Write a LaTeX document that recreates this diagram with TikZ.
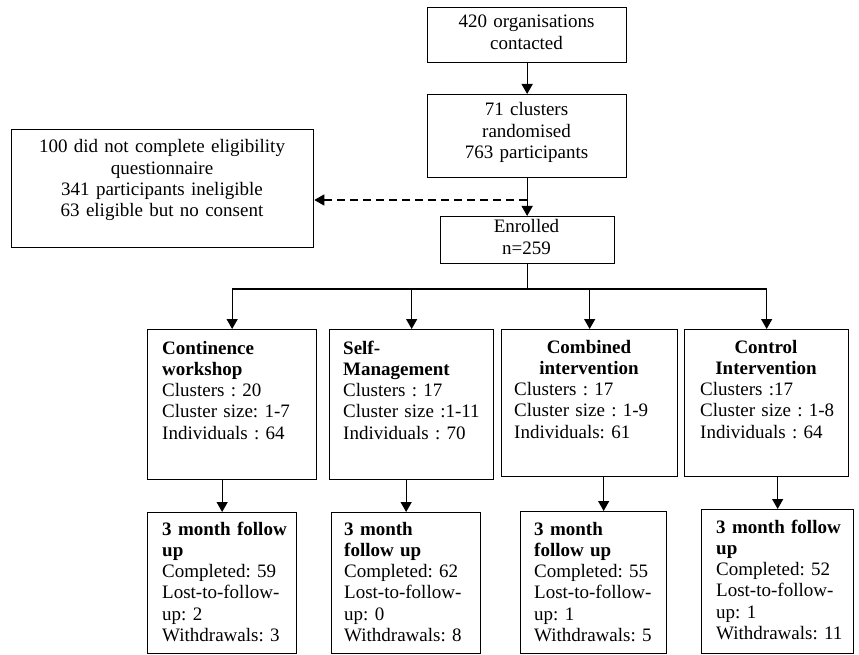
\documentclass[tikz,border=0pt]{standalone}
\usepackage{fontspec}
\setmainfont{Liberation Serif}
\usetikzlibrary{arrows.meta}
\frenchspacing
\tikzset{
  box/.style={draw, line width=1.3pt, inner sep=0pt, anchor=north west},
  txt/.style={inner sep=0pt, text width=140pt, align=left, anchor=base west},
  fut/.style={txt, text width=130pt},
  mid/.style={inner sep=0pt, align=center, anchor=base},
  arr/.style={line width=1.3pt, -{Triangle[length=10pt,width=11pt]}},
}
\begin{document}
\begin{tikzpicture}[x=1pt, y=-1pt, font=\fontsize{19}{21.3}\selectfont]
  \useasboundingbox (0,0) rectangle (859,655);
  % main column
  \node[box, minimum width=199pt, minimum height=55pt] (org) at (427,7) {};
  \node[mid, text width=190pt] (orgt) at (526.5,28) {420 organisations\\contacted};
  \node[box, minimum width=199pt, minimum height=83pt] (rd) at (427,94) {};
  \node[mid, text width=190pt] (rdt) at (526.5,116) {71 clusters\\randomised\\763 participants};
  \node[box, minimum width=174pt, minimum height=47pt] (en) at (439.5,216) {};
  \node[mid, text width=160pt] (ent) at (526.5,233) {Enrolled\\n=259};
  \node[box, minimum width=302pt, minimum height=118pt] (ex) at (11,129) {};
  \node[mid, text width=290pt] (ext) at (162,153) {100 did not complete eligibility\\questionnaire\\341 participants ineligible\\63 eligible but no consent};
  \coordinate (split) at (rd.south |- 0,200);
  \coordinate (bus) at (en.south |- 0,289);
  \draw[arr] (org.south) -- (rd.north);
  \draw[arr] (rd.south) -- (rd.south |- en.north);
  \draw[arr, dash pattern=on 8pt off 5pt] (split) -- (split -| ex.east);

  % study arms
  \node[box, minimum width=169pt, minimum height=150pt] (cw) at (147,329) {};
  \node[box, minimum width=164pt, minimum height=150pt] (sm) at (329,329) {};
  \node[box, minimum width=176pt, minimum height=147pt] (ci) at (501,329) {};
  \node[box, minimum width=164pt, minimum height=147pt] (co) at (684,329) {};
  \node[txt] (cwt) at (162,354) {\textbf{Continence}\\\textbf{workshop}\\Clusters : 20\\Cluster size: 1-7\\Individuals : 64};
  \node[txt] (smt) at (343,354) {\textbf{Self-}\\\textbf{Management}\\Clusters : 17\\Cluster size :1-11\\Individuals : 70};
  \node[mid, text width=160pt] (cih) at (589,353) {\textbf{Combined}\\\textbf{intervention}};
  \node[txt] (cit) at (514,395.6) {Clusters : 17\\Cluster size : 1-9\\Individuals: 61};
  \node[mid, text width=150pt] (coh) at (766,353) {\textbf{Control}\\\textbf{Intervention}};
  \node[txt] (cot) at (700,395.6) {Clusters :17\\Cluster size : 1-8\\Individuals : 64};
  \draw[line width=1.3pt] (en.south) -- (bus);
  \foreach \b in {cw,sm,ci,co}
    \draw[arr] (bus) -| (\b.north);

  % follow up
  \node[box, minimum width=149pt, minimum height=141pt] (f1) at (147,512) {};
  \node[box, minimum width=149pt, minimum height=141pt] (f2) at (331,512) {};
  \node[box, minimum width=146pt, minimum height=142pt] (f3) at (520,511) {};
  \node[box, minimum width=152pt, minimum height=144pt] (f4) at (701,509) {};
  \node[fut] (f1t) at (162,535) {\textbf{3 month follow}\\\textbf{up}\\Completed: 59\\Lost-to-follow-\\up: 2\\Withdrawals: 3};
  \node[fut] (f2t) at (344,535) {\textbf{3 month}\\\textbf{follow up}\\Completed: 62\\Lost-to-follow-\\up: 0\\Withdrawals: 8};
  \node[fut] (f3t) at (534,535) {\textbf{3 month}\\\textbf{follow up}\\Completed: 55\\Lost-to-follow-\\up: 1\\Withdrawals: 5};
  \node[fut] (f4t) at (716,533) {\textbf{3 month follow}\\\textbf{up}\\Completed: 52\\Lost-to-follow-\\up: 1\\Withdrawals: 11};
  \draw[arr] (cw.south -| f1.north) -- (f1.north);
  \draw[arr] (sm.south -| f2.north) -- (f2.north);
  \draw[arr] ([xshift=10pt]f3.north |- ci.south) -- ([xshift=10pt]f3.north);
  \draw[arr] (co.south -| f4.north) -- (f4.north);
\end{tikzpicture}
\end{document}
